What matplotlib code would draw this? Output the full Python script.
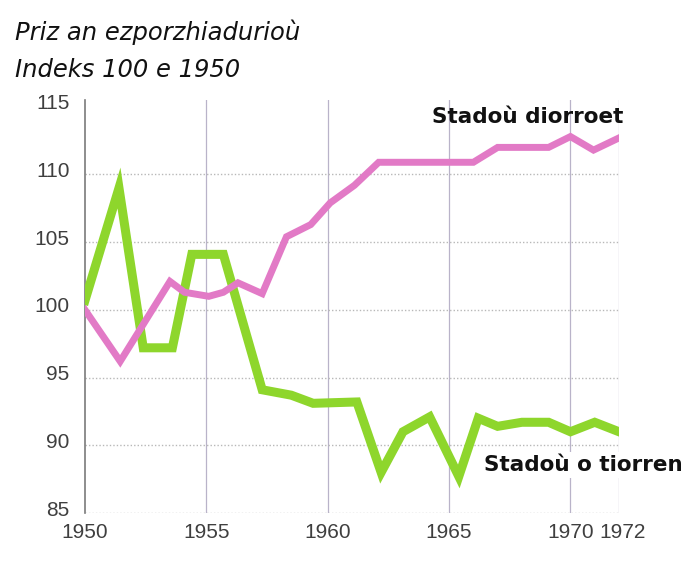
import matplotlib.pyplot as plt
from matplotlib.transforms import ScaledTranslation

# Data (year positions as drawn, index 100 = 1950)
dev_years = [1950, 1951.45, 1953.5, 1954.1, 1955.1, 1955.7, 1956.3, 1957.3,
             1958.3, 1959.3, 1960.1, 1961.1, 1962.1, 1966.0, 1967.0, 1969.1,
             1970.0, 1970.95, 1972.0]
dev_vals = [100.0, 96.2, 102.1, 101.3, 101.0, 101.3, 102.0, 101.2,
            105.4, 106.3, 107.9, 109.2, 110.9, 110.9, 112.0, 112.0,
            112.8, 111.8, 112.7]

ldc_years = [1950, 1951.4, 1952.4, 1953.6, 1954.4, 1955.7, 1957.3, 1958.5,
             1959.4, 1961.2, 1962.2, 1963.1, 1964.2, 1965.4, 1966.2, 1967.0,
             1968.0, 1969.1, 1970.0, 1971.0, 1972.0]
ldc_vals = [100.7, 109.0, 97.2, 97.2, 104.1, 104.1, 94.1, 93.7,
            93.1, 93.2, 88.0, 91.0, 92.1, 87.7, 92.0, 91.4,
            91.7, 91.7, 91.0, 91.7, 91.0]

x_ticks = [1950, 1955, 1960, 1965, 1970, 1972]
y_ticks = [85, 90, 95, 100, 105, 110, 115]

fig = plt.figure(figsize=(6.86, 5.68), dpi=100)
ax = fig.add_axes([85 / 686, 55 / 568, 534 / 686, 413 / 568])

ax.set_xlim(1950, 1972)
ax.set_ylim(85, 115.5)

# grid: solid verticals, dotted horizontals
for x in x_ticks[1:]:
    ax.axvline(x, color="#b9b3c9", lw=0.9, zorder=1)
for y in y_ticks[:-1]:
    ax.axhline(y, color="#b8b8b8", lw=1.0, ls=(0, (1, 1.5)), zorder=1)

ax.plot(ldc_years, ldc_vals, color="#8ed62c", lw=6.5, solid_joinstyle="miter",
        zorder=3)
ax.plot(dev_years, dev_vals, color="#e27ac6", lw=5, solid_joinstyle="miter",
        zorder=4)

for s in ["top", "right", "bottom"]:
    ax.spines[s].set_visible(False)
ax.spines["left"].set_color("#7a7a7a")
ax.spines["left"].set_linewidth(1.2)

tick_font = dict(family="Liberation Sans", size=15)
ax.set_xticks(x_ticks)
ax.set_xticklabels([str(x) for x in x_ticks], color="#3f3f3f", **tick_font)
ax.set_yticks(y_ticks)
ax.set_yticklabels([str(y) for y in y_ticks], color="#3f3f3f", **tick_font)
ax.tick_params(length=0, pad=7)
ax.tick_params(axis="y", pad=11)
offset = ScaledTranslation(0, 5 / 100, fig.dpi_scale_trans)
for lab in ax.get_yticklabels():
    lab.set_transform(lab.get_transform() + offset)
# last year label sits a little right of its gridline
last = ax.get_xticklabels()[-1]
last.set_transform(last.get_transform()
                   + ScaledTranslation(4 / 100, 0, fig.dpi_scale_trans))

fig.text(15 / 686, 1 - 32 / 568, "Priz an ezporzhiadurioù", style="italic",
         fontsize=17.5, va="center", ha="left", color="#111111")
fig.text(15 / 686, 1 - 70 / 568, "Indeks 100 e 1950", style="italic",
         fontsize=17.5, va="center", ha="left", color="#111111")

fig.text(623 / 686, 1 - 117 / 568, "Stadoù diorroet", fontsize=15.5,
         fontweight="bold", ha="right", va="center", color="#111111")
fig.text(683 / 686, 1 - 465 / 568, "Stadoù o tiorren", fontsize=15.5,
         fontweight="bold", ha="right", va="center", color="#111111",
         zorder=5, bbox=dict(facecolor="white", edgecolor="none", pad=2))

fig.savefig("out.png", dpi=100)
